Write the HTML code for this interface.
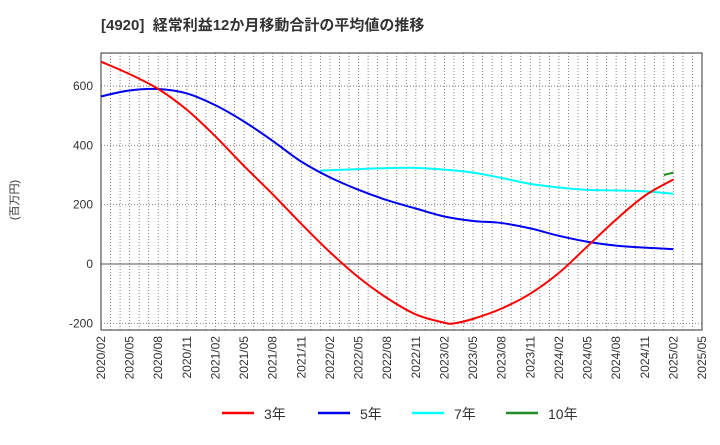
<!DOCTYPE html>
<html><head><meta charset="utf-8"><style>
body{margin:0;background:#fff;}
svg text{font-family:"Liberation Sans","Noto Sans CJK JP",sans-serif;}
</style></head><body>
<svg width="720" height="440" viewBox="0 0 720 440" xmlns="http://www.w3.org/2000/svg">
<text x="101" y="30" font-size="15" font-weight="bold" fill="#333">[4920]&#160; 経常利益12か月移動合計の平均値の推移</text>
<text transform="translate(18,200) rotate(-90)" font-size="11" fill="#333" text-anchor="middle">(百万円)</text>
<g id="grid"></g><g id="axes"></g><g id="series"></g><g id="legend"></g>
</svg>
<script>
const tickLabels=["2020/02","2020/05","2020/08","2020/11","2021/02","2021/05","2021/08","2021/11","2022/02","2022/05","2022/08","2022/11","2023/02","2023/05","2023/08","2023/11","2024/02","2024/05","2024/08","2024/11","2025/02","2025/05"];
const yTicks=[-200,0,200,400,600];
const months3=[0,3,6,9,12,15,18,21,24,27,30,33,36,37,39,42,45,48,51,54,57,60];
const s3=[682,640,590,520,430,330,235,135,40,-45,-115,-170,-198,-200,-185,-150,-100,-30,60,150,230,285];
const months5=[0,3,6,9,12,15,18,21,24,27,30,33,36,39,42,45,48,51,54,57,60];
const s5=[565,585,590,575,535,480,415,345,292,250,215,187,160,145,138,120,95,75,62,55,50];
const months7=[23,24,27,30,33,36,39,42,45,48,51,54,57,60];
const s7=[315,316,320,323,324,318,308,290,270,258,250,248,245,237];
const months10=[59,60];
const s10=[300,308];
const L=101,R=702,T=53,B=330;
const x=m=>L+m*(R-L)/63;
const y=v=>264-v*(264-86)/600;
const NS="http://www.w3.org/2000/svg";
function mk(tag,attrs,parent){const e=document.createElementNS(NS,tag);for(const k in attrs)e.setAttribute(k,attrs[k]);document.getElementById(parent).appendChild(e);return e;}
for(let m=0;m<=63;m++){
 const g=mk('line',{x1:x(m),x2:x(m),y1:T,y2:B,stroke:'#777','stroke-width':0.9,'stroke-dasharray':'1,2'},'grid');
 
 
}
yTicks.forEach(v=>{
 const g=mk('line',{x1:L,x2:R,y1:y(v),y2:y(v),stroke:v===0?'#555':'#777','stroke-width':v===0?1:0.9,'stroke-dasharray':v===0?'':'1,2'},'grid');
 
 
 const t=mk('text',{x:L-8,y:y(v)+4,'font-size':12,fill:'#333','text-anchor':'end'},'axes');
 t.textContent=v;
 
 
});
const fr=mk('rect',{x:L,y:T,width:R-L,height:B-T,fill:'none',stroke:'#333','stroke-width':1},'axes');


tickLabels.forEach((lab,i)=>{
 const px=x(i*3);
 const t=mk('text',{transform:`translate(${px+4},${B+6}) rotate(-90)`,'font-size':12,fill:'#333','text-anchor':'end'},'axes');
 t.textContent=lab;
 
 
});
function path(ms,vs){
 const p=ms.map((m,i)=>[x(m),y(vs[i])]);
 let d=`M${p[0][0]},${p[0][1]}`;
 for(let i=0;i<p.length-1;i++){
  const p0=p[i-1]||p[i],p1=p[i],p2=p[i+1],p3=p[i+2]||p2;
  const c1=[p1[0]+(p2[0]-p0[0])/6,p1[1]+(p2[1]-p0[1])/6];
  const c2=[p2[0]-(p3[0]-p1[0])/6,p2[1]-(p3[1]-p1[1])/6];
  d+=`C${c1[0]},${c1[1]} ${c2[0]},${c2[1]} ${p2[0]},${p2[1]}`;
 }
 return d;
}
const series=[[months7,s7,'#00ffff','series-7y'],[months5,s5,'#0000ee','series-5y'],[months3,s3,'#ff0000','series-3y'],[months10,s10,'#228b22','series-10y']];
series.forEach(s=>{
 const e=mk('path',{d:path(s[0],s[1]),fill:'none',stroke:s[2],'stroke-width':2},'series');
 
 
});
const leg=[['3年','#ff0000',222],['5年','#0000ee',318],['7年','#00ffff',412],['10年','#228b22',506]];
leg.forEach(l=>{
 const ln=mk('line',{x1:l[2],x2:l[2]+32,y1:413,y2:413,stroke:l[1],'stroke-width':2.5},'legend');
 
 
 const t=mk('text',{x:l[2]+42,y:419,'font-size':14,fill:'#333'},'legend');
 t.textContent=l[0];
 
 
});
</script>
</body></html>
